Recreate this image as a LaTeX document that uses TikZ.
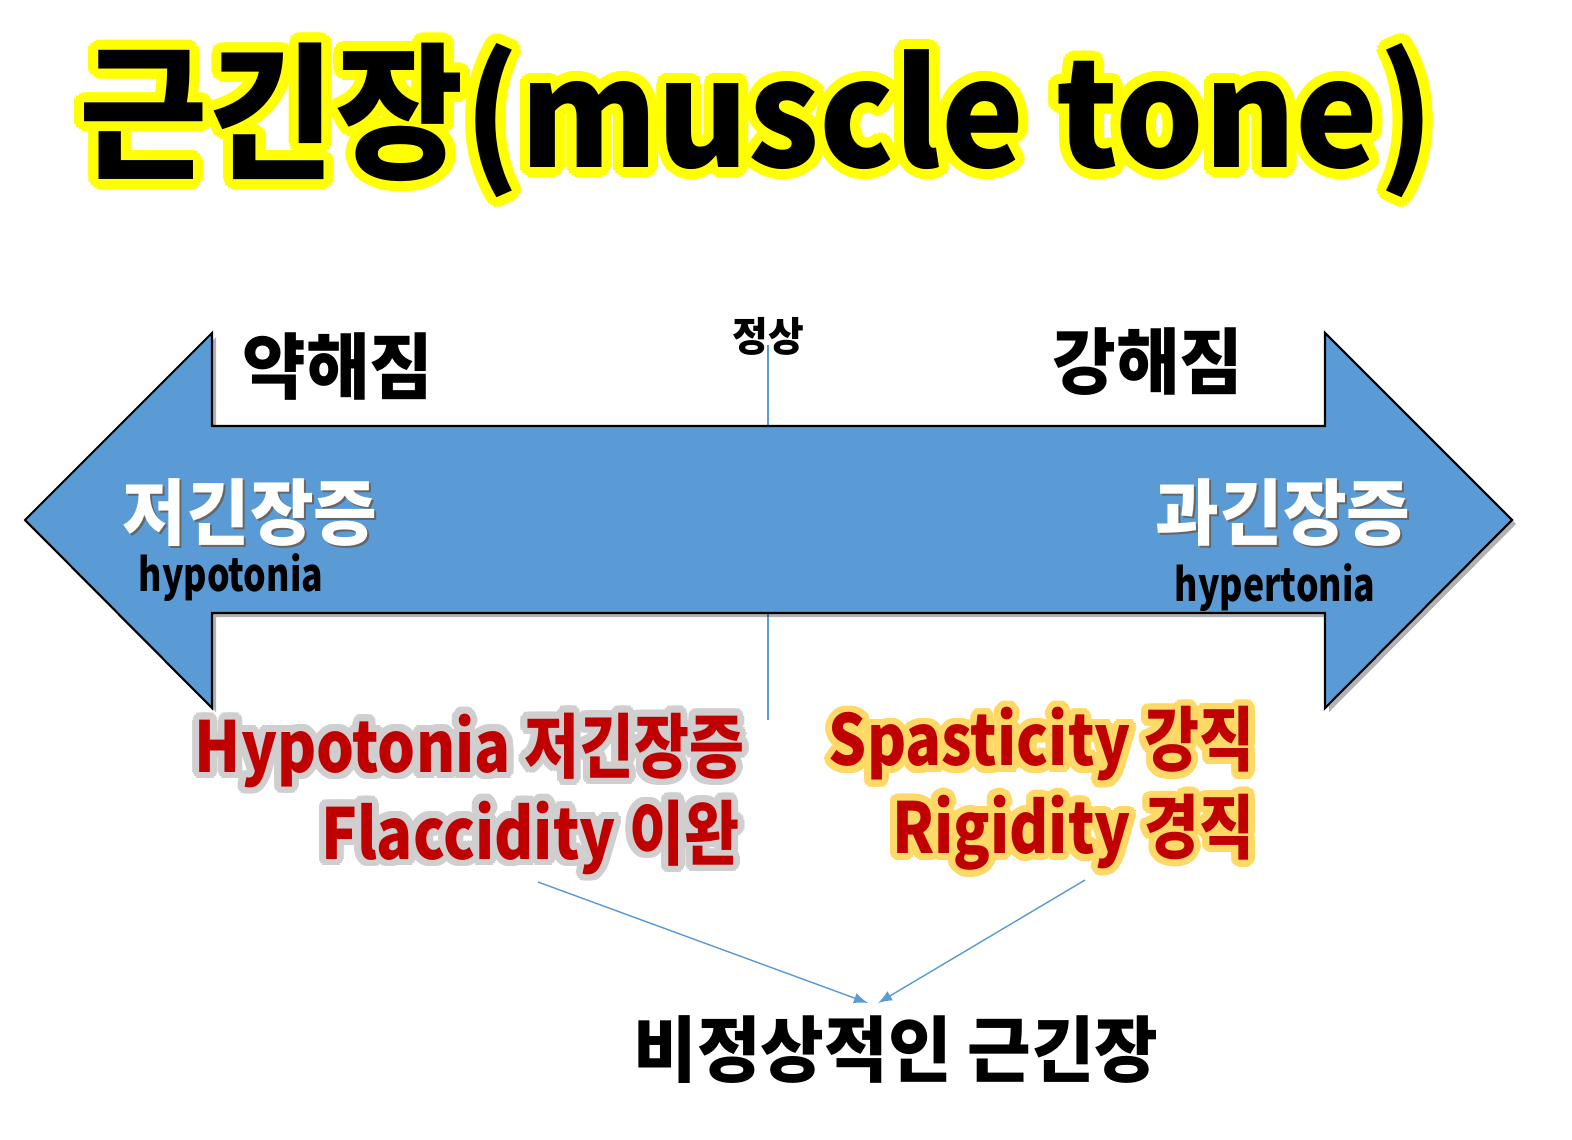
\documentclass[tikz,border=0pt]{standalone}
\usepackage{fontspec}
\newfontfamily\krfont{Noto Sans CJK KR}[FakeStretch=0.96]
\newfontfamily\krnarrow{Noto Sans CJK KR}[FakeStretch=0.78]
\newfontfamily\krmid{Noto Sans CJK KR}[FakeStretch=0.85]
\newfontfamily\krheavy{Noto Sans CJK KR Black}[FakeStretch=0.945]
\usetikzlibrary{arrows, positioning}
\definecolor{tonefill}{HTML}{5B9BD5}
\definecolor{tonered}{HTML}{C00000}
\definecolor{greyhalo}{HTML}{D0CECE}
\definecolor{goldhalo}{HTML}{FFD966}
\definecolor{titlehalo}{HTML}{FFFF00}

% copies of a text in a ring, under the text itself
\newcommand{\halo}[5]{%
  \foreach \ang in {0,20,...,340}
    \node[#1, text=#2, anchor=#3, shift={(\ang:#4)}] at #5;}

\begin{document}
\begin{tikzpicture}
    [
        x=0.1mm, y=-0.1mm,
        title/.style  ={font=\krheavy\fontsize{42pt}{48pt}\selectfont, inner sep=0pt},
        side/.style   ={font=\krfont\bfseries\fontsize{20.5pt}{24pt}\selectfont, inner sep=0pt},
        small/.style  ={font=\krfont\bfseries\fontsize{11.5pt}{14pt}\selectfont, inner sep=0pt},
        eng/.style    ={font=\krnarrow\bfseries\fontsize{13pt}{16pt}\selectfont, inner sep=0pt},
        kind/.style   ={font=\krmid\bfseries\fontsize{20pt}{24pt}\selectfont, inner sep=0pt},
        shaft/.style  ={draw=black, line width=0.6pt, fill=tonefill},
        shade/.style  ={fill=black, opacity=0.3},
        midline/.style={draw=tonefill, line width=0.4pt},
        oarc/.style   ={->, >=latex, draw=tonefill, line width=0.4pt}
    ]
    \useasboundingbox (0,0) rectangle (1572,1139);

    % title
    \halo{title}{titlehalo}{center}{10}{(757,120) {근긴장(muscle tone)}}
    \node[title]    (head)      at (757,120)    {근긴장(muscle tone)};

    % normal line behind the arrow
    \coordinate     (normtop)   at (768,345);
    \coordinate     (normbot)   at (768,720);
    \draw[midline]  (normtop) -- (normbot);

    % double arrow
    \fill[shade, shift={(4,4)}]
        (25,520) -- (212,333) -- (212,426) -- (1325,426) -- (1325,333) -- (1512,520)
        -- (1325,708) -- (1325,613) -- (212,613) -- (212,708) -- cycle;
    \draw[shaft]
        (25,520) -- (212,333) -- (212,426) -- (1325,426) -- (1325,333) -- (1512,520)
        -- (1325,708) -- (1325,613) -- (212,613) -- (212,708) -- cycle;

    \node[small]    (normal)    at (768,336)    {정상};
    \node[side]     (weak)      at (338,367)    {약해짐};
    \node[side]     (strong)    at (1148,362)   {강해짐};

    \node[side, text=black!60]  at (252,515)    {저긴장증};
    \node[side, text=white]     (hypo)  at (250,513)    {저긴장증};
    \node[eng]      (hypoen)    at (231,578)    {hypotonia};
    \node[side, text=black!60]  at (1285,515)   {과긴장증};
    \node[side, text=white]     (hyper) at (1283,513)   {과긴장증};
    \node[eng]      (hyperen)   at (1275,588)   {hypertonia};

    % kinds of abnormal tone
    \halo{kind}{greyhalo}{east}{7}{(745,750) {Hypotonia 저긴장증}}
    \node[kind, text=tonered, anchor=east]  (lowa)  at (745,750)    {Hypotonia 저긴장증};
    \halo{kind}{greyhalo}{east}{7}{(740,837) {Flaccidity 이완}}
    \node[kind, text=tonered, anchor=east]  (lowb)  at (740,837)    {Flaccidity 이완};
    \halo{kind}{goldhalo}{east}{7}{(1255,744) {Spasticity 강직}}
    \node[kind, text=tonered, anchor=east]  (higha) at (1255,744)   {Spasticity 강직};
    \halo{kind}{goldhalo}{east}{7}{(1255,832) {Rigidity 경직}}
    \node[kind, text=tonered, anchor=east]  (highb) at (1255,832)   {Rigidity 경직};

    \node[side]     (abn)       at (896,1050)   {비정상적인 근긴장};

    \coordinate     (lowend)    at (538,882);
    \coordinate     (highend)   at (1085,880);
    \coordinate     (abnl)      at (868,1003);
    \coordinate     (abnr)      at (878,1003);
    \draw[oarc]     (lowend) to (abnl);
    \draw[oarc]     (highend) to (abnr);

\end{tikzpicture}
\end{document}
